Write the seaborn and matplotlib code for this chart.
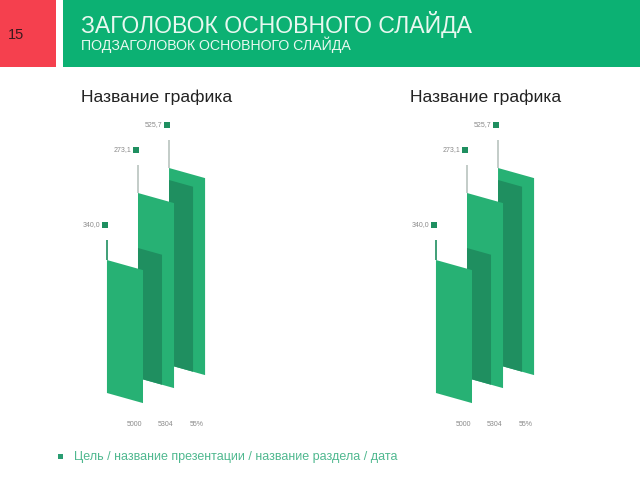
import matplotlib
matplotlib.use("Agg")
import matplotlib.pyplot as plt
from matplotlib.patches import Rectangle
from matplotlib.transforms import Affine2D
import numpy as np
import pandas as pd
import seaborn as sns

sns.set_theme(style="white")
plt.rcParams["font.family"] = ["Liberation Sans", "DejaVu Sans"]

slide_number = "15"
slide_title = "ЗАГОЛОВОК ОСНОВНОГО СЛАЙДА"
slide_subtitle = "ПОДЗАГОЛОВОК ОСНОВНОГО СЛАЙДА"
chart_title = "Название графика"
footer = "Цель / название презентации / название раздела / дата"

categories = ["5000", "5304", "55%"]
value_labels = ["340,0", "273,1", "525,7"]
bar_bottom = [47, 62, 75]
bar_height = [133, 185, 197]
inner_height = [0, 130, 185]
stem_top = [200, 275, 300]

GREEN = "#27b174"
DARK = "#1f8f60"
HEADER = "#0cb173"
RED = "#f5404e"
W, H = 640, 480
SLOPE = 8.7  # shear of the bars, y units per category step
AX_TOP, AX_BOTTOM = 105, 418
Y_MIN = 22


def draw_chart(left_px):
    # 31 px between bars, 1 y unit = 1 px
    ax = fig.add_axes([left_px / W, 1 - AX_BOTTOM / H, 140 / W, (AX_BOTTOM - AX_TOP) / H])
    ax.patch.set_alpha(0)
    df = pd.DataFrame({"cat": categories, "bottom": bar_bottom, "outer": bar_height, "inner": inner_height})

    sns.barplot(data=df, x="cat", y="outer", bottom=df["bottom"], width=36 / 31, color=GREEN,
                saturation=1, linewidth=0, ax=ax)
    n_outer = len(ax.patches)
    sns.barplot(data=df, x="cat", y="inner", bottom=df["bottom"], width=24 / 31, color=DARK,
                saturation=1, linewidth=0, ax=ax)

    outer = ax.patches[:n_outer]
    inner = ax.patches[n_outer:]
    for i, (p, q) in enumerate(zip(outer, inner)):
        q.set_x(p.get_x())
        x0 = p.get_x()
        shear = Affine2D(np.array([[1, 0, 0], [-SLOPE, 1, SLOPE * x0], [0, 0, 1]], dtype=float))
        for r in (p, q):
            r.set_transform(shear + ax.transData)
            r.set_clip_on(False)
        # front bar is the first one
        p.set_zorder(10 - 2 * i)
        q.set_zorder(11 - 2 * i)

    lefts = [p.get_x() for p in outer]
    tops = [b + h for b, h in zip(bar_bottom, bar_height)]
    stem_colors = [DARK, "#b9c4bf", "#b9c4bf"]
    ax.vlines(lefts, tops, stem_top, colors=stem_colors, linewidth=1.2, zorder=3)
    ax.scatter(np.array(lefts) - 0.06, np.array(stem_top) + 15, marker="s", s=14, color=DARK,
               linewidth=0, zorder=4)
    for x, y, lab in zip(lefts, stem_top, value_labels):
        ax.text(x - 0.2, y + 15, lab, ha="right", va="center", fontsize=5, color="#8a8a8a")

    ax.set_xlim(-1.61, 2.9)
    ax.set_ylim(Y_MIN, AX_BOTTOM - AX_TOP + Y_MIN)
    ax.set_xticks(np.arange(3) + 0.31)
    ax.set_xticklabels(categories, fontsize=5, color="#8a8a8a")
    ax.tick_params(axis="x", length=0, pad=2)
    ax.set_yticks([])
    ax.set_xlabel("")
    ax.set_ylabel("")
    sns.despine(ax=ax, left=True, bottom=True)
    return ax


fig = plt.figure(figsize=(W / 100, H / 100), dpi=100)
bg = fig.add_axes([0, 0, 1, 1])
bg.set_xlim(0, W)
bg.set_ylim(H, 0)
bg.axis("off")
bg.add_patch(Rectangle((0, 0), 56, 67, color=RED, linewidth=0))
bg.add_patch(Rectangle((63, 0), W - 63, 67, color=HEADER, linewidth=0))
bg.add_patch(Rectangle((58, 454), 5, 5, color="#2a9d72", linewidth=0))

bg.text(8, 35, slide_number, fontsize=10.5, color="#3a1a1e", ha="left", va="center")
bg.text(81, 24, slide_title, fontsize=16.6, color="#e8f8f0", ha="left", va="center")
bg.text(81, 45, slide_subtitle, fontsize=10.2, color="#e8f8f0", ha="left", va="center")
bg.text(81, 97, chart_title, fontsize=12.6, color="#222222", ha="left", va="center")
bg.text(410, 97, chart_title, fontsize=12.6, color="#222222", ha="left", va="center")
bg.text(74, 457, footer, fontsize=9, color="#4fb88f", ha="left", va="center")

draw_chart(75)
draw_chart(404)

fig.savefig("out.png", dpi=100)
